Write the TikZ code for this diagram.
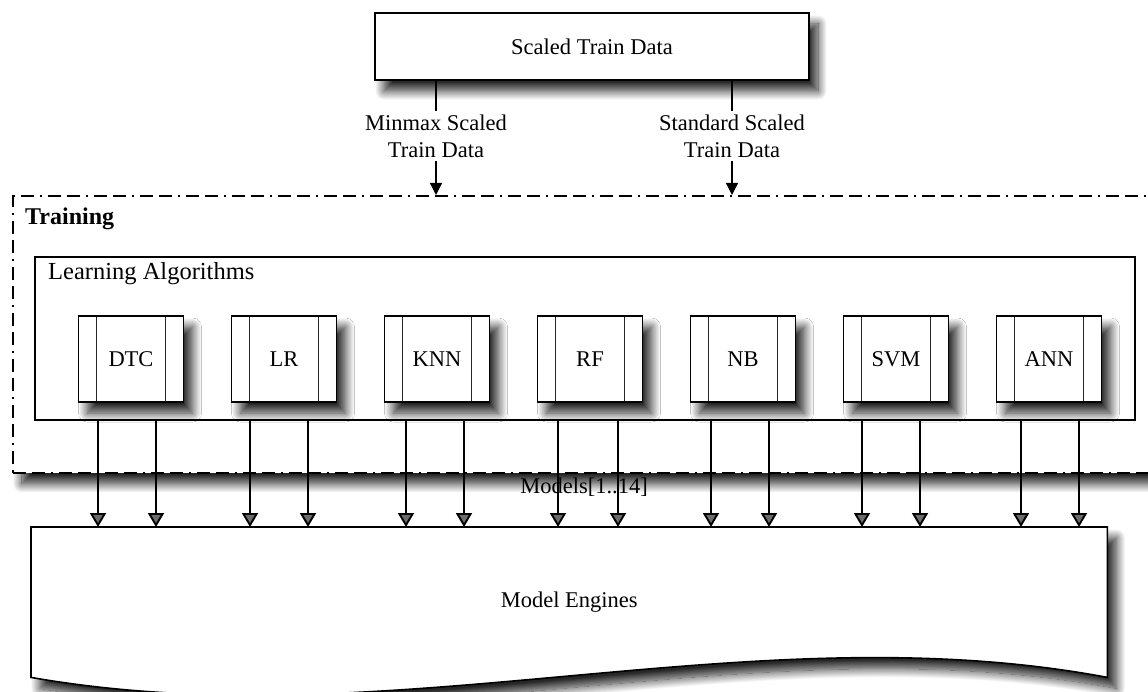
\documentclass[tikz,border=0pt]{standalone}
\usepackage{fontspec}
\setmainfont{Liberation Serif}
\usetikzlibrary{arrows.meta,shadows.blur,calc}
\begin{document}
\begin{tikzpicture}[x=1pt,y=-1pt,
  base/.style={font=\fontsize{22.5}{27}\selectfont},
  shd/.style={blur shadow={shadow xshift=9pt,shadow yshift=-11pt,shadow blur radius=9pt,shadow blur steps=16,shadow opacity=85}},
  srcbox/.style={draw,line width=1.6pt,fill=white,shd,minimum width=434pt,minimum height=67pt,base},
  lbl/.style={base,align=center,inner sep=3pt},
  frame/.style={draw,line width=1.6pt,fill=white,shd,dash pattern=on 13pt off 6pt on 13pt off 6pt on 2pt off 6pt,
    minimum width=1160pt,minimum height=277pt,anchor=north west,inner sep=0pt},
  labox/.style={draw,line width=1.7pt,fill=white,minimum width=1100pt,minimum height=163pt,anchor=north west,inner sep=0pt},
  procbox/.style={draw,line width=1.6pt,fill=white,shd,minimum width=105pt,minimum height=86pt,base,
    path picture={\draw[line width=1.6pt,black!85]
      ([xshift=18pt]path picture bounding box.north west) -- ([xshift=18pt]path picture bounding box.south west)
      ([xshift=-18pt]path picture bounding box.north east) -- ([xshift=-18pt]path picture bounding box.south east);}},
  engbox/.style={minimum width=1076pt,minimum height=150pt,anchor=north west,inner sep=0pt,base},
  smallarr/.style={line width=1.3pt,-{Triangle[width=12pt,length=12pt]}},
  bigarr/.style={line width=1.9pt,-{Triangle[width=16pt,length=14pt]}},
  conn/.style={line width=1.3pt}
]
\useasboundingbox (0,0) rectangle (1148,692);
\clip (0,0) rectangle (1148,692);

% source box
\node[srcbox] (src) at (592,46.5) {Scaled Train Data};
\node[lbl] (lbl1) at (436,136) {Minmax Scaled\\Train Data};
\node[lbl] (lbl2) at (732,136) {Standard Scaled\\Train Data};

% training frame
\node[frame] (frame) at (12,195) {};
\node[font=\fontsize{24}{28}\selectfont\bfseries,anchor=base west,inner sep=0pt] (train) at (25,225) {Training};

\draw[conn] (src.south -| lbl1) -- (lbl1.north);
\draw[conn] (src.south -| lbl2) -- (lbl2.north);
\draw[smallarr] (lbl1.south) -- (frame.north -| lbl1);
\draw[smallarr] (lbl2.south) -- (frame.north -| lbl2);

% learning algorithms
\node[labox] (la) at (34,256) {};
\node[font=\fontsize{24.5}{29}\selectfont,anchor=base west,inner sep=0pt] (latitle) at (48,280) {Learning Algorithms};

\node[procbox] (dtc) at (131,359) {DTC};
\node[procbox] (lr)  at (284,359) {LR};
\node[procbox] (knn) at (437,359) {KNN};
\node[procbox] (rf)  at (590,359) {RF};
\node[procbox] (nb)  at (743,359) {NB};
\node[procbox] (svm) at (896,359) {SVM};
\node[procbox] (ann) at (1049,359) {ANN};

% model engines
\node[engbox] (eng) at (31,527) {};
\draw[line width=1.6pt,fill=white,shd]
  (eng.north west) -- (eng.north east) -- (eng.south east)
  .. controls ($(eng.south east)+(-357,-67)$) and ($(eng.south west)+(359,63)$) .. (eng.south west) -- cycle;
\node[base] (engtext) at (eng.center) {Model Engines};

% arrows
\foreach \i/\xx in {1/98,2/156,3/250,4/308,5/406,6/464,7/558,8/618,9/711,10/769,11/862,12/920,13/1021,14/1079}{
  \coordinate (a\i) at (\xx,0);
  \draw[bigarr] (la.south -| a\i) -- (eng.north -| a\i);
}
\node[base] (models) at (584,487) {Models[1..14]};
\end{tikzpicture}
\end{document}
